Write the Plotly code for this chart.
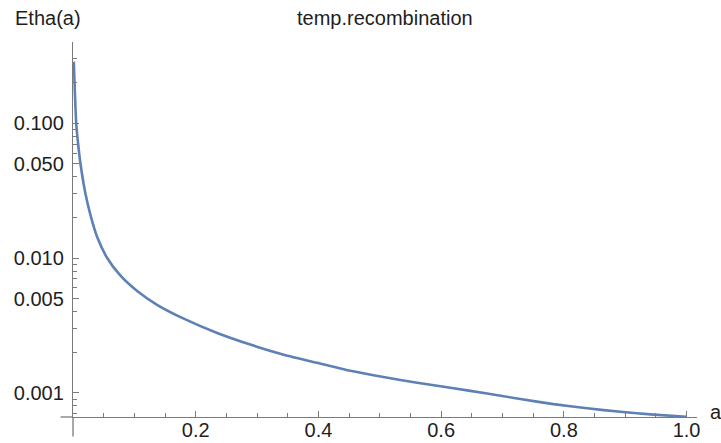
import plotly.graph_objects as go

# Data (a, Etha(a))
a_vals = [0.0013, 0.0052, 0.0078, 0.0122, 0.0204, 0.0285, 0.0394, 0.0557, 0.0774,
          0.1046, 0.137, 0.1805, 0.235, 0.289, 0.3435, 0.398, 0.452, 0.506, 0.561,
          0.615, 0.675, 0.729, 0.783, 0.838, 0.892, 0.946, 1.0]
etha_vals = [0.286, 0.100, 0.0740, 0.050, 0.0298, 0.0208, 0.0143, 0.0100, 0.0074,
             0.0057, 0.0045, 0.00355, 0.00278, 0.00228, 0.00192, 0.00167, 0.00146,
             0.00131, 0.00119, 0.00109, 0.000990, 0.000900, 0.000825, 0.000768,
             0.000724, 0.000690, 0.000664]

x_tickvals = [0.2, 0.4, 0.6, 0.8, 1.0]
x_ticktext = ["0.2", "0.4", "0.6", "0.8", "1.0"]
x_minor = [0.05, 0.1, 0.15, 0.25, 0.3, 0.35, 0.45, 0.5, 0.55, 0.65, 0.7, 0.75,
           0.85, 0.9, 0.95]
y_tickvals = [0.001, 0.005, 0.01, 0.05, 0.1]
y_ticktext = ["0.001", "0.005", "0.010", "0.050", "0.100"]
y_minor = [0.0007, 0.0008, 0.0009, 0.002, 0.003, 0.004, 0.006, 0.007, 0.008,
           0.009, 0.02, 0.03, 0.04, 0.06, 0.07, 0.08, 0.09, 0.2, 0.3]

FONT = "Liberation Sans, Arial, sans-serif"
AXIS = "#7a7a7a"
TEXT = "#1e1e1e"

fig = go.Figure()
fig.add_trace(go.Scatter(
    x=a_vals, y=etha_vals, mode="lines",
    line=dict(color="#5E81B5", width=2.6, shape="spline", smoothing=0.6),
    hoverinfo="skip", showlegend=False,
))

fig.update_layout(
    width=721, height=443,
    margin=dict(l=72.5, r=24.3, t=42, b=25.5, autoexpand=False),
    paper_bgcolor="white", plot_bgcolor="white",
    font=dict(family=FONT, size=20, color=TEXT),
    xaxis=dict(
        range=[0, 1.017], showgrid=False, zeroline=False, automargin=False,
        showline=True, linecolor=AXIS, linewidth=1.3,
        tickvals=x_tickvals, ticktext=x_ticktext,
        ticks="inside", ticklen=6, tickwidth=1.2, tickcolor=AXIS,
        tickfont=dict(size=20, color=TEXT), ticklabelstandoff=-5,
        minor=dict(tickvals=x_minor, ticks="inside", ticklen=3.5,
                   tickwidth=1, tickcolor=AXIS, showgrid=False),
    ),
    yaxis=dict(
        type="log", range=[-3.179, -0.398], showgrid=False, zeroline=False,
        automargin=False,
        showline=True, linecolor=AXIS, linewidth=1.3,
        tickvals=y_tickvals, ticktext=y_ticktext,
        ticks="inside", ticklen=6, tickwidth=1.2, tickcolor=AXIS,
        tickfont=dict(size=20, color=TEXT), ticklabelstandoff=4,
        minor=dict(tickvals=y_minor, ticks="inside", ticklen=3.5,
                   tickwidth=1, tickcolor=AXIS, showgrid=False),
    ),
    shapes=[
        # axis extensions beyond the crossing point (Mathematica style)
        dict(type="line", xref="paper", yref="paper", x0=0, x1=0, y0=0, y1=-0.052,
             line=dict(color=AXIS, width=1.3)),
        dict(type="line", xref="paper", yref="paper", x0=-0.02, x1=0, y0=0, y1=0,
             line=dict(color=AXIS, width=1.3)),
    ],
    annotations=[
        dict(text="temp.recombination", xref="paper", yref="paper", x=0.5, y=1,
             yshift=24, xanchor="center", yanchor="middle", showarrow=False,
             font=dict(size=20, color=TEXT)),
        dict(text="Etha(a)", xref="paper", yref="paper", x=0, y=1,
             xshift=10, yshift=24, xanchor="right", yanchor="middle",
             showarrow=False, font=dict(size=20, color=TEXT)),
        dict(text="a", xref="paper", yref="paper", x=1, y=0, xshift=11, yshift=5,
             xanchor="left", yanchor="middle", showarrow=False,
             font=dict(size=20, color=TEXT)),
    ],
)

fig.write_html("out.html")
